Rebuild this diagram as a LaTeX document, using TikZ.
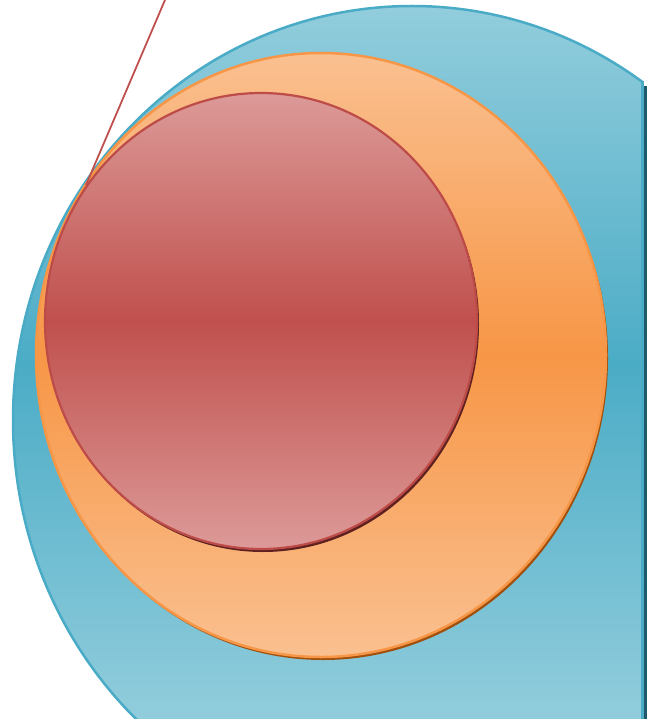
\documentclass[tikz,border=0pt]{standalone}
\usetikzlibrary{shapes.geometric}
\definecolor{bluelight}{HTML}{92CDDC}
\definecolor{bluemid}{HTML}{4BACC6}
\definecolor{blueedge}{HTML}{4AABC6}
\definecolor{blueshadow}{HTML}{1F5A6B}
\definecolor{orangelight}{HTML}{FAC090}
\definecolor{orangemid}{HTML}{F79646}
\definecolor{orangeshadow}{HTML}{A04F0C}
\definecolor{redlight}{HTML}{DC9A98}
\definecolor{redmid}{HTML}{C0504D}
\definecolor{rededge}{HTML}{BD4B48}
\definecolor{redshadow}{HTML}{5E2120}
\tikzset{
  disc/.style={ellipse, inner sep=0pt, outer sep=0pt},
  shadowdisc/.style={disc, fill=#1},
}
\begin{document}
\begin{tikzpicture}[x=1pt,y=-1pt]
\useasboundingbox (0,0) rectangle (648,719);
\begin{scope}
\clip (0,0) rectangle (643,719);
% blue
\node[shadowdisc=blueshadow, minimum width=798pt, minimum height=828pt] (blueshd) at (414,423) {};
\begin{scope}
\clip (412,420) ellipse [x radius=399pt, y radius=414pt];
\shade[top color=bluelight, bottom color=bluelight, middle color=bluemid] (0,6) rectangle (643,722);
\end{scope}
\node[disc, minimum width=798pt, minimum height=828pt, draw=blueedge, line width=2.5pt] (blue) at (412,420) {};
\end{scope}
\draw[blueshadow, line width=2.2pt] (645.5,86) -- (645.5,719);
\draw[blueedge, line width=2.2pt] (642.5,81) -- (642.5,719);
% orange
\node[shadowdisc=orangeshadow, minimum width=570pt, minimum height=604pt] (orangeshd) at (323,358) {};
\node[disc, minimum width=570pt, minimum height=604pt, top color=orangelight, bottom color=orangelight, middle color=orangemid, draw=orangemid, line width=2.5pt] (orange) at (321,355) {};
% red
\node[shadowdisc=redshadow, minimum width=432pt, minimum height=456pt] (redshd) at (263,324) {};
\node[disc, minimum width=432pt, minimum height=456pt, top color=redlight, bottom color=redlight, middle color=redmid, draw=rededge, line width=2.2pt] (red) at (261,321) {};
% line
\coordinate (ltop) at (165,0);
\coordinate (lend) at (86,185);
\draw[redmid, line width=1.8pt] (ltop) -- (lend);
\end{tikzpicture}
\end{document}
